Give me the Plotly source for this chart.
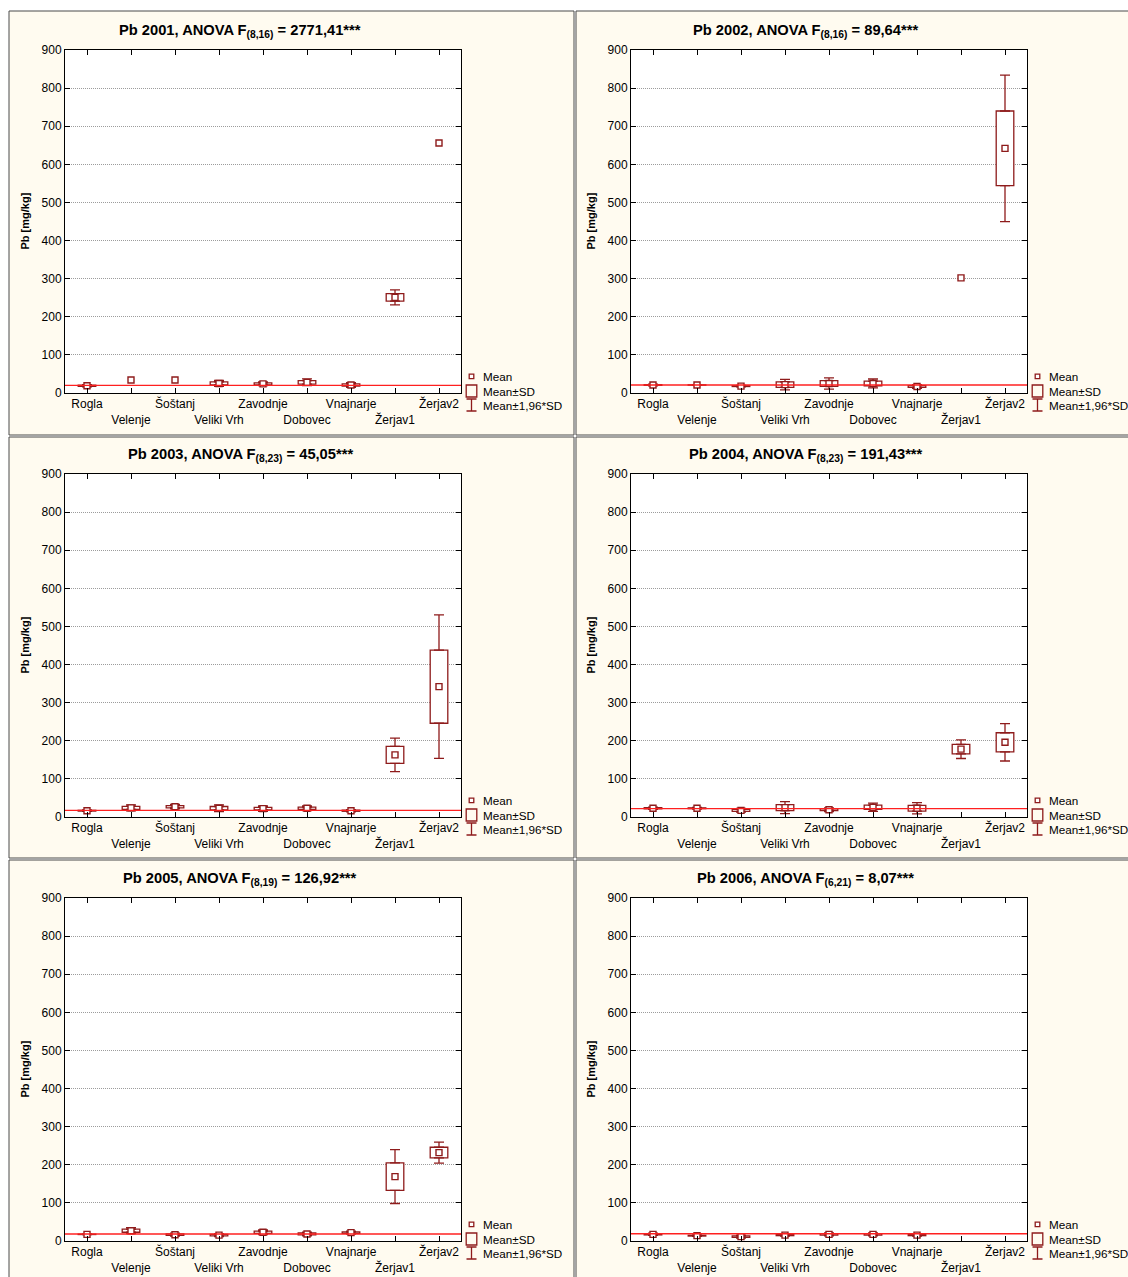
import plotly.graph_objects as go

# ---------------- data ----------------
sites = ["Rogla", "Velenje", "Šoštanj", "Veliki Vrh", "Zavodnje",
         "Dobovec", "Vnajnarje", "Žerjav1", "Žerjav2"]

years = ["2001", "2002", "2003", "2004", "2005", "2006"]
anova_df = ["(8,16)", "(8,16)", "(8,23)", "(8,23)", "(8,19)", "(6,21)"]
anova_F = ["2771,41", "89,64", "45,05", "191,43", "126,92", "8,07"]

mean_2001 = [19, 34, 34, 25, 24, 28, 21, 251, 656]
sd_2001 = [1.5, 0, 0, 4, 2.5, 4.5, 3, 10, 0]
mean_2002 = [21, 21, 18, 22, 25, 25, 17, 302, 642]
sd_2002 = [1, 0.5, 1, 7, 7.5, 6, 2.5, 0, 98]
mean_2003 = [16.5, 24, 27, 23, 22, 23, 16.5, 163, 342]
sd_2003 = [1, 4, 3, 4.5, 3.5, 3, 1.5, 22.5, 96]
mean_2004 = [23, 23, 17.5, 24.5, 19, 25.5, 23, 178, 196]
sd_2004 = [1.5, 1, 2.5, 8, 2.5, 5.5, 7.5, 12.5, 25]
mean_2005 = [17.5, 27, 16.5, 15.5, 23, 18.5, 22, 169, 232]
sd_2005 = [0.5, 4, 2, 2, 3, 2.5, 2, 36, 14]
mean_2006 = [17.5, 14, 11.5, 15.5, 17.5, 17.5, 15.5, None, None]
sd_2006 = [1.5, 1, 2, 1.5, 2, 2, 1.5, None, None]

means = [mean_2001, mean_2002, mean_2003, mean_2004, mean_2005, mean_2006]
sds = [sd_2001, sd_2002, sd_2003, sd_2004, sd_2005, sd_2006]
ref_line = [20, 21, 17.5, 22, 18.5, 19]

y_ticks = [0, 100, 200, 300, 400, 500, 600, 700, 800, 900]
legend_labels = ["Mean", "Mean±SD", "Mean±1,96*SD"]

# ---------------- style / layout ----------------
W, H = 1128, 1277
DARK = "#8E1B1B"
CREAM = "#FFFBF0"
FONT = "Liberation Sans, Arial, sans-serif"

col_x = [(65, 461), (631, 1027)]
row_y = [(50, 393), (474, 817), (898, 1241)]
panel_x = [(9, 574), (576, 1135)]
panel_y = [(11, 435), (437, 858), (860, 1285)]


def fx(px):
    return px / W


def fy(py):
    return 1 - py / H


fig = go.Figure()
shapes = []
annotations = []

# panel backgrounds
for r in range(3):
    for c in range(2):
        shapes.append(dict(type="rect", xref="paper", yref="paper",
                           x0=fx(panel_x[c][0]), x1=fx(panel_x[c][1]),
                           y0=fy(panel_y[r][1]), y1=fy(panel_y[r][0]),
                           fillcolor=CREAM, line=dict(color="#4a4a4a", width=1),
                           layer="below"))

ticktext = [s if i % 2 == 0 else "<br>" + s for i, s in enumerate(sites)]

for i in range(6):
    r, c = i // 2, i % 2
    xl, xr = col_x[c]
    yt, yb = row_y[r]
    sfx = "" if i == 0 else str(i + 1)
    xa, ya = "x" + sfx, "y" + sfx

    # white plot area
    shapes.append(dict(type="rect", xref="paper", yref="paper",
                       x0=fx(xl), x1=fx(xr), y0=fy(yb), y1=fy(yt),
                       fillcolor="white", line=dict(width=0), layer="below"))

    m = means[i]
    s = sds[i]
    keep = [k for k in range(9) if m[k] is not None and s[k] > 0]
    bx = [sites[k] for k in keep]
    bm = [m[k] for k in keep]
    bs = [s[k] for k in keep]

    # Mean ± SD boxes
    fig.add_trace(go.Bar(x=bx, y=[2 * v for v in bs],
                         base=[a - v for a, v in zip(bm, bs)],
                         width=0.4, marker=dict(color="white",
                                                line=dict(color=DARK, width=1.3)),
                         xaxis=xa, yaxis=ya, showlegend=False, hoverinfo="skip"))
    # whiskers (Mean ± 1.96 SD) from box edges outward
    fig.add_trace(go.Scatter(x=bx, y=[a + v for a, v in zip(bm, bs)], mode="markers",
                             marker=dict(size=1, opacity=0),
                             error_y=dict(type="data", symmetric=False,
                                          array=[0.96 * v for v in bs],
                                          arrayminus=[0] * len(bs),
                                          color=DARK, thickness=1.3, width=5),
                             xaxis=xa, yaxis=ya, showlegend=False, hoverinfo="skip"))
    fig.add_trace(go.Scatter(x=bx, y=[a - v for a, v in zip(bm, bs)], mode="markers",
                             marker=dict(size=1, opacity=0),
                             error_y=dict(type="data", symmetric=False,
                                          array=[0] * len(bs),
                                          arrayminus=[0.96 * v for v in bs],
                                          color=DARK, thickness=1.3, width=5),
                             xaxis=xa, yaxis=ya, showlegend=False, hoverinfo="skip"))
    # means
    mk = [k for k in range(9) if m[k] is not None]
    fig.add_trace(go.Scatter(x=[sites[k] for k in mk], y=[m[k] for k in mk], mode="markers",
                             marker=dict(symbol="square", size=6, color="white",
                                         line=dict(color=DARK, width=1.4)),
                             xaxis=xa, yaxis=ya, showlegend=False))

    # reference line
    shapes.append(dict(type="line", xref=xa + " domain", yref=ya,
                       x0=0, x1=1, y0=ref_line[i], y1=ref_line[i],
                       line=dict(color="#FF2020", width=1.4), layer="above"))

    fig.layout["xaxis" + sfx] = dict(
        domain=[fx(xl), fx(xr)], anchor=ya, type="category",
        categoryorder="array", categoryarray=sites,
        range=[-0.5, 8.5], tickvals=sites, ticktext=ticktext,
        tickangle=0, automargin=False,
        showline=True, linecolor="black", linewidth=1, mirror="ticks",
        ticks="inside", ticklen=5, tickcolor="black",
        showgrid=False, zeroline=False,
        tickfont=dict(size=12, color="black", family=FONT))
    fig.layout["yaxis" + sfx] = dict(
        domain=[fy(yb), fy(yt)], anchor=xa, range=[0, 900],
        tickvals=y_ticks, automargin=False,
        showline=True, linecolor="black", linewidth=1,
        mirror="ticks", ticks="inside", ticklen=5, tickcolor="black",
        showgrid=True, gridcolor="#9c9c9c", griddash="1px,1px", gridwidth=1,
        zeroline=False, tickfont=dict(size=12, color="black", family=FONT))

    # title
    annotations.append(dict(
        text="<b>Pb " + years[i] + ", ANOVA F<sub>" + anova_df[i] + "</sub> = "
             + anova_F[i] + "***</b>",
        xref="paper", yref="paper", x=fx((xl + xr) / 2 - 23), y=fy(yt - 19),
        xanchor="center", yanchor="middle", showarrow=False,
        font=dict(size=14.7, color="black", family=FONT)))
    # y axis title
    annotations.append(dict(
        text="<b>Pb [mg/kg]</b>", textangle=-90,
        xref="paper", yref="paper", x=fx(xl - 41), y=fy((yt + yb) / 2),
        xanchor="center", yanchor="middle", showarrow=False,
        font=dict(size=11, color="black", family=FONT)))

    # legend
    lx = xr + 10.5
    shapes.append(dict(type="rect", xref="paper", yref="paper",
                       x0=fx(lx - 2.3), x1=fx(lx + 2.3), y0=fy(yb - 14.3), y1=fy(yb - 18.9),
                       line=dict(color=DARK, width=1.3), fillcolor="white"))
    shapes.append(dict(type="rect", xref="paper", yref="paper",
                       x0=fx(lx - 5.3), x1=fx(lx + 5.3), y0=fy(yb + 4), y1=fy(yb - 8),
                       line=dict(color=DARK, width=1.3), fillcolor="rgba(0,0,0,0)"))
    shapes.append(dict(type="path", xref="paper", yref="paper",
                       path="M {a},{b} L {c},{b} M {d},{b} L {d},{e} M {a},{e} L {c},{e}".format(
                           a=fx(lx - 5), c=fx(lx + 5), d=fx(lx), b=fy(yb + 6), e=fy(yb + 18)),
                       line=dict(color=DARK, width=1.3)))
    for j, (lab, off) in enumerate(zip(legend_labels, [-16.3, -1.3, 12.7])):
        annotations.append(dict(
            text=lab, xref="paper", yref="paper", x=fx(xr + 19.5), y=fy(yb + off),
            xanchor="left", yanchor="middle", showarrow=False,
            font=dict(size=11.7, color="black", family=FONT)))

fig.update_layout(
    width=W, height=H, margin=dict(l=0, r=0, t=0, b=0, autoexpand=False),
    paper_bgcolor="white", plot_bgcolor="rgba(0,0,0,0)",
    barmode="overlay", showlegend=False,
    shapes=shapes, annotations=annotations,
    font=dict(family=FONT, color="black"))

fig.write_html("out.html")
